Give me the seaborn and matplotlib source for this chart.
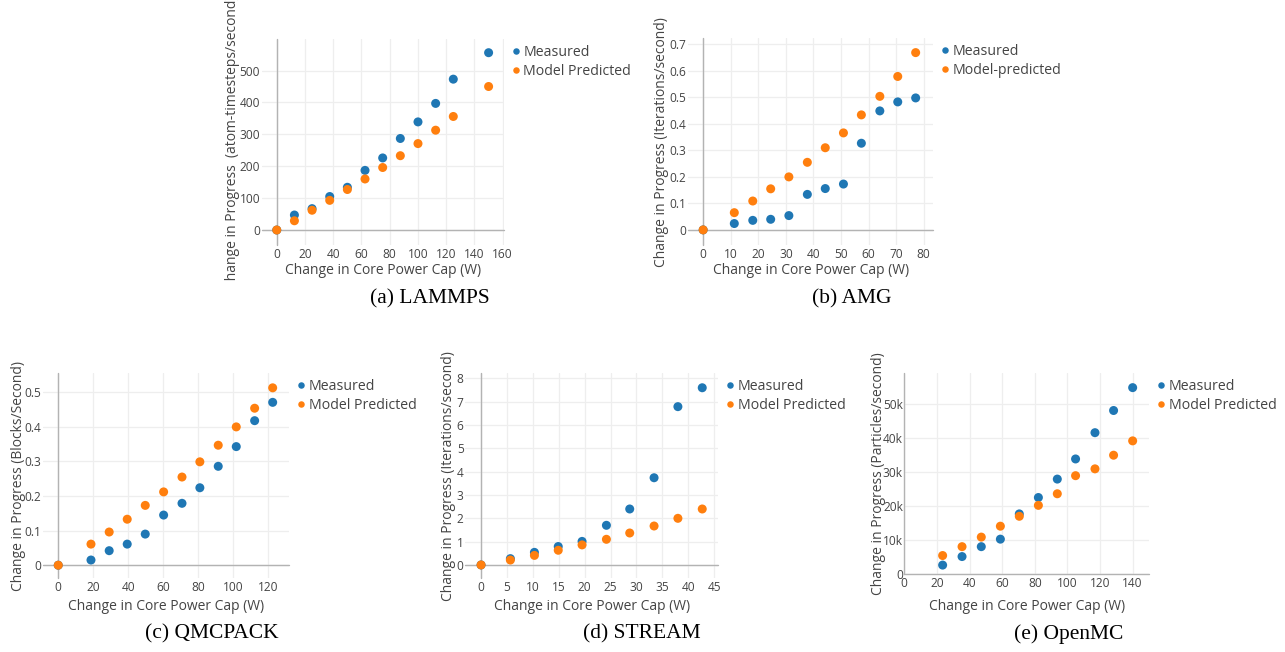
import matplotlib
matplotlib.use("Agg")
import matplotlib.pyplot as plt
from matplotlib.ticker import FuncFormatter
from matplotlib.transforms import Bbox, TransformedBbox
import numpy as np
import pandas as pd
import seaborn as sns

# ---------------------------------------------------------------- data
lammps_power = [0, 12.5, 25, 37.5, 50, 62.5, 75, 87.5, 100, 112.5, 125, 150]
lammps_measured = [0, 47, 67, 105, 134, 187, 226, 287, 339, 397, 473, 556]
lammps_predicted = [0, 29, 62, 93, 127, 160, 196, 233, 271, 313, 356, 450]

amg_power = [0, 11.3, 18.0, 24.5, 31.1, 37.8, 44.3, 50.9, 57.4, 64.1, 70.6, 77.1]
amg_measured = [0, 0.024, 0.036, 0.040, 0.054, 0.134, 0.156, 0.173, 0.327, 0.449, 0.483, 0.498]
amg_predicted = [0, 0.065, 0.109, 0.155, 0.200, 0.255, 0.310, 0.366, 0.434, 0.504, 0.579, 0.669]

qmcpack_power = [0, 18.7, 29.1, 39.4, 49.7, 60.2, 70.7, 80.9, 91.4, 101.7, 112.2, 122.5]
qmcpack_measured = [0, 0.015, 0.042, 0.061, 0.090, 0.145, 0.179, 0.224, 0.286, 0.343, 0.418, 0.471]
qmcpack_predicted = [0, 0.061, 0.096, 0.133, 0.173, 0.212, 0.255, 0.299, 0.347, 0.400, 0.454, 0.513]

stream_power = [0, 5.66, 10.3, 14.9, 19.5, 24.2, 28.7, 33.4, 38.0, 42.7]
stream_measured = [0, 0.27, 0.54, 0.79, 1.01, 1.70, 2.40, 3.74, 6.79, 7.60]
stream_predicted = [0, 0.21, 0.41, 0.63, 0.86, 1.10, 1.37, 1.67, 2.00, 2.40]

openmc_power = [23.5, 35.4, 47.2, 58.9, 70.5, 82.2, 93.8, 105.0, 116.9, 128.3, 140.0]
openmc_measured = [2700, 5200, 8100, 10300, 17700, 22500, 27900, 33800, 41500, 48000, 54700]
openmc_predicted = [5500, 8100, 10900, 14100, 17000, 20200, 23600, 28900, 30900, 34900, 39100]

# ---------------------------------------------------------------- labels
x_title = "Change in Core Power Cap (W)"
series_labels = ["Measured", "Model Predicted"]
amg_series_labels = ["Measured", "Model-predicted"]
y_titles = [
    "Change in Progress  (atom-timesteps/second)",
    "Change in Progress (Iterations/second)",
    "Change in Progress (Blocks/Second)",
    "Change in Progress (Iterations/second)",
    "Change in Progress (Particles/second)",
]
captions = ["(a) LAMMPS", "(b) AMG", "(c) QMCPACK", "(d) STREAM", "(e) OpenMC"]

xtick_values = [
    list(range(0, 161, 20)),
    list(range(0, 81, 10)),
    list(range(0, 121, 20)),
    list(range(0, 46, 5)),
    list(range(0, 141, 20)),
]
ytick_values = [
    list(range(0, 501, 100)),
    [0, 0.1, 0.2, 0.3, 0.4, 0.5, 0.6, 0.7],
    [0, 0.1, 0.2, 0.3, 0.4, 0.5],
    list(range(0, 9)),
    [0, 10000, 20000, 30000, 40000, 50000],
]

# ---------------------------------------------------------------- style
W, H = 1285, 652
BLUE, ORANGE = "#1f77b4", "#ff7f0e"
TEXT = "#444444"
GRID = "#eeeeee"
ZERO = "#b3b3b3"

sns.set_theme(style="white")
plt.rcParams["font.family"] = ["Open Sans", "DejaVu Sans"]

# plot-area boxes in pixels: left, top, right, bottom
layout = [
    dict(box=(261.5, 39.3, 504.0, 245.0), xlim=(-10.8, 160.9), ylim=(-47, 598),
         ytitle_x=233, xtitle_y=270, cap=(430, 299), clip_bottom=281),
    dict(box=(688.0, 38.3, 933.3, 245.0), xlim=(-5.5, 83.5), ylim=(-0.057, 0.723),
         ytitle_x=662, xtitle_y=270, cap=(852, 299), clip_bottom=None),
    dict(box=(42.5, 373.3, 289.3, 578.0), xlim=(-9.0, 132.0), ylim=(-0.037, 0.555),
         ytitle_x=18.5, xtitle_y=605, cap=(212, 634), clip_bottom=None),
    dict(box=(465.0, 373.3, 718.3, 578.0), xlim=(-3.1, 45.8), ylim=(-0.56, 8.22),
         ytitle_x=448, xtitle_y=605, cap=(642, 634), clip_bottom=None),
    dict(box=(904.3, 373.3, 1149.3, 574.3), xlim=(0, 150.2), ylim=(0, 58900),
         ytitle_x=878, xtitle_y=605, cap=(1069, 634), clip_bottom=None),
]

datasets = [
    (lammps_power, lammps_measured, lammps_predicted, series_labels),
    (amg_power, amg_measured, amg_predicted, amg_series_labels),
    (qmcpack_power, qmcpack_measured, qmcpack_predicted, series_labels),
    (stream_power, stream_measured, stream_predicted, series_labels),
    (openmc_power, openmc_measured, openmc_predicted, series_labels),
]

fmt_plain = FuncFormatter(lambda v, _: f"{v:g}")
fmt_k = FuncFormatter(lambda v, _: "0" if v == 0 else f"{v / 1000:g}k")

fig = plt.figure(figsize=(W / 100, H / 100), dpi=100)
fig.patch.set_facecolor("white")


def fx(px):
    return px / W


def fy(py):
    return 1 - py / H


for i, ((power, measured, predicted, labels), lay) in enumerate(zip(datasets, layout)):
    l, t, r, b = lay["box"]
    ax = fig.add_axes([fx(l), fy(b), (r - l) / W, (b - t) / H])
    ax.set_facecolor("white")

    n = len(power)
    df = pd.DataFrame({
        "power": list(power) + list(power),
        "value": list(measured) + list(predicted),
        "series": [labels[0]] * n + [labels[1]] * n,
    })
    sns.scatterplot(data=df, x="power", y="value", hue="series",
                    hue_order=labels, palette=[BLUE, ORANGE],
                    s=42, linewidth=0, ax=ax, zorder=3, clip_on=False)

    ax.set_xlim(*lay["xlim"])
    ax.set_ylim(*lay["ylim"])
    ax.set_xticks(xtick_values[i])
    ax.set_yticks(ytick_values[i])
    ax.xaxis.set_major_formatter(fmt_plain)
    ax.yaxis.set_major_formatter(fmt_k if i == 4 else fmt_plain)
    ax.tick_params(axis="both", length=0, labelsize=8.6, labelcolor=TEXT)
    ax.tick_params(axis="x", pad=2.2)
    ax.tick_params(axis="y", pad=1.0)
    ax.grid(True, color=GRID, linewidth=0.9, zorder=0)
    ax.set_axisbelow(True)
    for sp in ax.spines.values():
        sp.set_visible(False)
    ax.axhline(0, color=ZERO, linewidth=1.0, zorder=2, clip_on=False)
    ax.axvline(0, color=ZERO, linewidth=1.0, zorder=2, clip_on=False)
    ax.set_xlabel("")
    ax.set_ylabel("")

    handles, hl = ax.get_legend_handles_labels()
    ax.legend(handles, hl, loc="upper left",
              bbox_to_anchor=(fx(r + 9), fy(t + 5.5)),
              bbox_transform=fig.transFigure, frameon=False,
              fontsize=10.2, handlelength=0.45, handletextpad=0.28,
              borderpad=0, borderaxespad=0, labelspacing=0.28,
              markerscale=0.72, labelcolor=TEXT)

    # axis titles
    fig.text(fx((l + r) / 2), fy(lay["xtitle_y"] + 1), x_title, ha="center",
             va="center", fontsize=10.0, color=TEXT)
    yt = fig.text(fx(lay["ytitle_x"]), fy((t + b) / 2), y_titles[i],
                  rotation=90, ha="center", va="center", fontsize=10.0,
                  color=TEXT)
    if lay["clip_bottom"] is not None:
        cb = lay["clip_bottom"]
        clip = TransformedBbox(Bbox([[fx(l - 60), fy(cb)], [fx(l), 1.0]]),
                               fig.transFigure)
        yt.set_clip_box(clip)
        yt.set_clip_on(True)

    # sub-figure caption
    fig.text(fx(lay["cap"][0]), fy(lay["cap"][1]), captions[i], ha="center",
             va="center", fontsize=15.5, family="Liberation Serif",
             color="black")

fig.savefig("out.png", dpi=100, facecolor="white")
